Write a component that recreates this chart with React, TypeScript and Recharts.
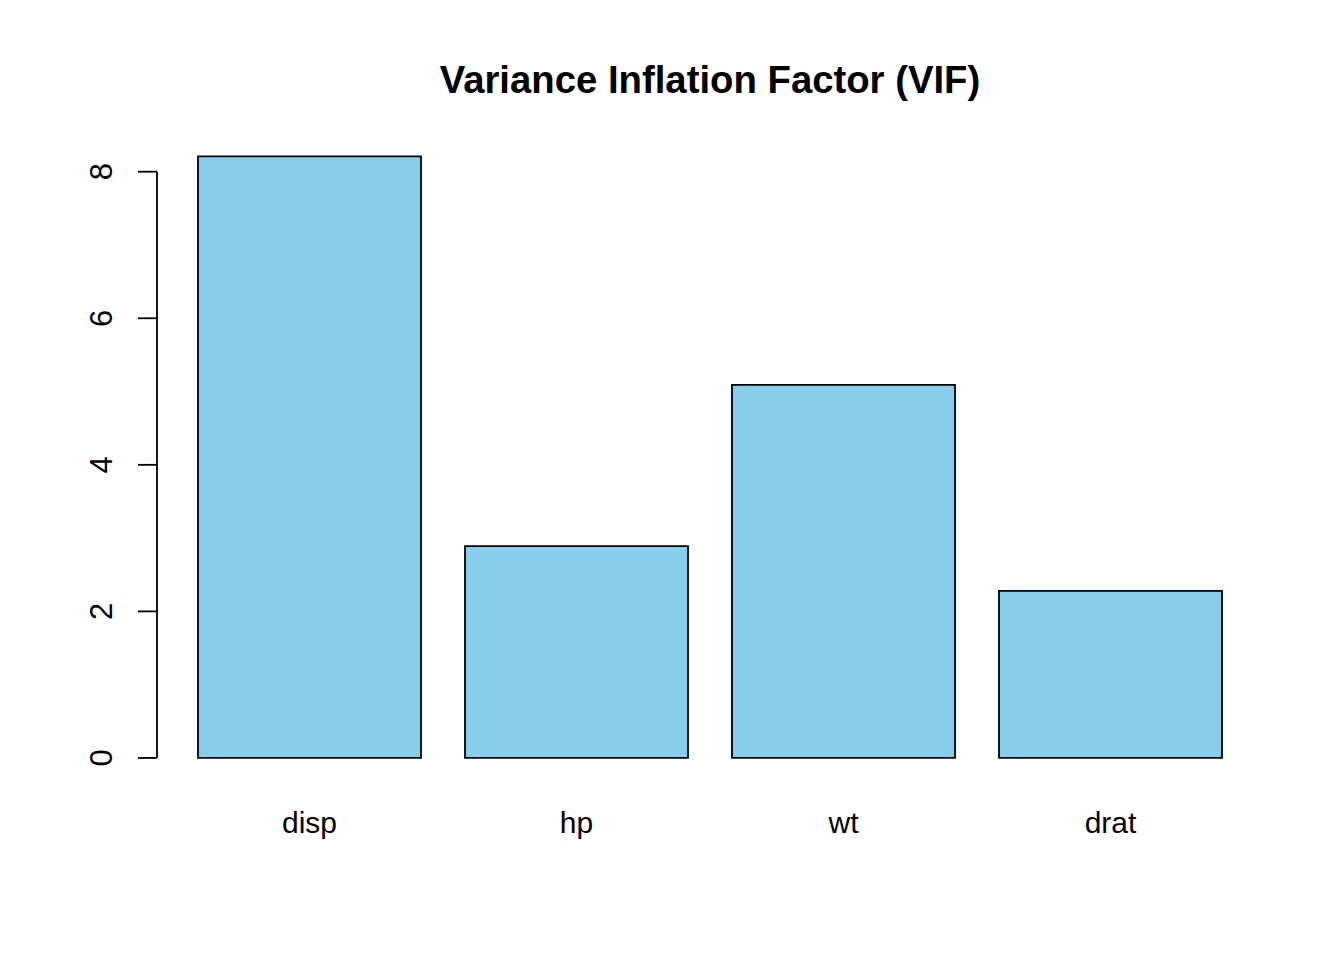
import React from 'react';
import { BarChart, Bar, XAxis, YAxis, ReferenceLine } from 'recharts';

const variables = ['disp', 'hp', 'wt', 'drat'];
const vifValues = [8.21, 2.89, 5.09, 2.28];
const yTicks = [0, 2, 4, 6, 8];

const chartData = variables.map((name, i) => ({ name, vif: vifValues[i] }));

const FONT = '"Liberation Sans", Arial, sans-serif';

const YTick = (props: any) => {
    const { x, y, payload } = props;
    const tx = x - 24;
    return (
        <text
            x={tx}
            y={y}
            transform={`rotate(-90, ${tx}, ${y})`}
            textAnchor="middle"
            fontFamily={FONT}
            fontSize={31}
            fill="#000"
        >
            {payload.value}
        </text>
    );
};

const XTick = (props: any) => {
    const { x, y, payload } = props;
    return (
        <text x={x} y={y + 51} textAnchor="middle" fontFamily={FONT} fontSize={30} fill="#000">
            {payload.value}
        </text>
    );
};

const App: React.FC = () => {
    return (
        <div style={{ position: 'absolute', left: 0, top: 0, width: 1344, height: 960, background: '#fff' }}>
            <div
                style={{
                    position: 'absolute',
                    left: 157,
                    top: 61,
                    width: 1106,
                    textAlign: 'center',
                    fontFamily: FONT,
                    fontWeight: 'bold',
                    fontSize: 38.3,
                    lineHeight: '38px',
                    color: '#000',
                }}
            >
                Variance Inflation Factor (VIF)
            </div>
            <BarChart
                width={1344}
                height={960}
                data={chartData}
                margin={{ top: 133, right: 81, bottom: 118, left: 0 }}
            >
                <XAxis
                    dataKey="name"
                    padding={{ left: 19, right: 19 }}
                    axisLine={false}
                    tickLine={false}
                    tickSize={0}
                    tickMargin={0}
                    height={60}
                    tick={<XTick />}
                    interval={0}
                />
                <XAxis xAxisId="edge" type="number" domain={[0, 1]} hide />
                <YAxis
                    width={157}
                    type="number"
                    domain={[-0.328, 8.528]}
                    ticks={yTicks}
                    axisLine={false}
                    tickLine={{ stroke: '#000', strokeWidth: 1.8 }}
                    tickSize={19}
                    tickMargin={2}
                    tick={<YTick />}
                    allowDataOverflow
                />
                <ReferenceLine
                    xAxisId="edge"
                    segment={[{ x: 0, y: 0 }, { x: 0, y: 8 }]}
                    stroke="#000"
                    strokeWidth={1.8}
                />
                <Bar
                    dataKey="vif"
                    fill="#87CEEB"
                    stroke="#000"
                    strokeWidth={1.8}
                    barSize={223}
                    isAnimationActive={false}
                />
            </BarChart>
        </div>
    );
};

export default App;
